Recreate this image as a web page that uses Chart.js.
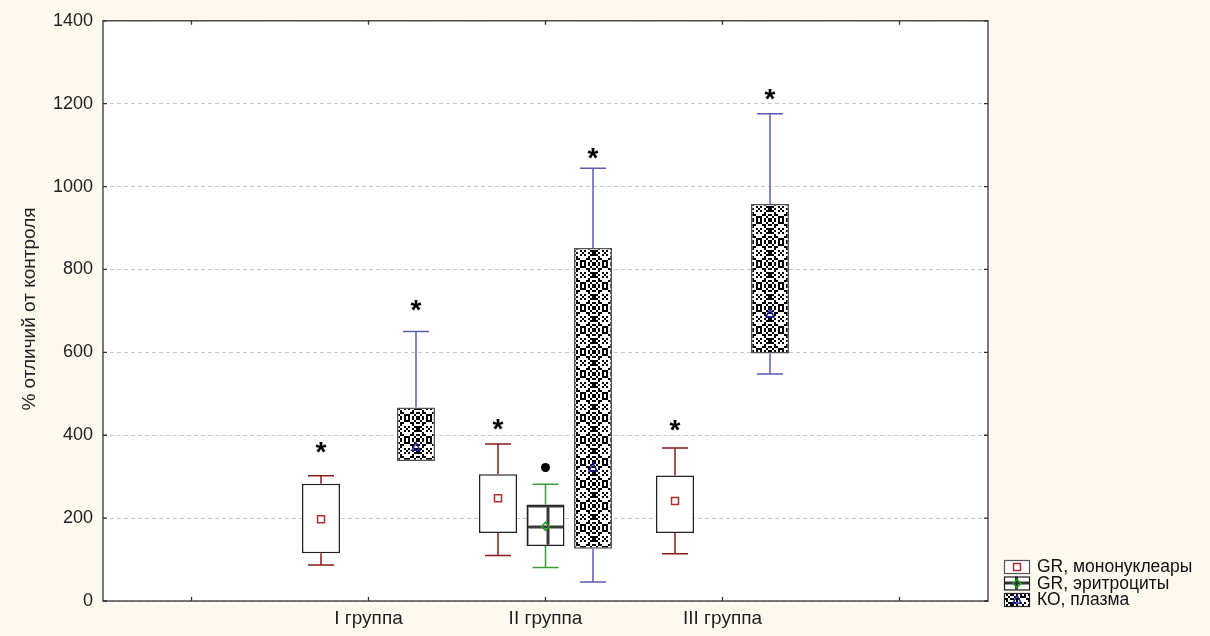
<!DOCTYPE html>
<html>
<head>
<meta charset="utf-8">
<script src="https://cdn.jsdelivr.net/npm/chart.js@4"></script>
<style>
  html, body { margin: 0; padding: 0; background: #fdf9ef; }
  #wrap { width: 1210px; height: 636px; position: relative; }
</style>
</head>
<body>
<div id="wrap"><canvas id="boxChart" width="1210" height="636"></canvas></div>
<script>
const categories = ['', 'I группа', 'II группа', 'III группа', ''];
const seriesNames = ['GR, мононуклеары', 'GR, эритроциты', 'КО, плазма'];
const yTicks = [0, 200, 400, 600, 800, 1000, 1200, 1400];

// GR, мононуклеары
const monoMin = [null, 87, 110, 114, null];
const monoQ1 = [null, 115, 164, 164, null];
const monoMean = [null, 197, 248, 241, null];
const monoQ3 = [null, 283, 306, 303, null];
const monoMax = [null, 302, 379, 369, null];
const monoStar = [null, 371, 427, 423, null];

// GR, эритроциты
const eryMin = [null, null, 81, null, null];
const eryQ1 = [null, null, 133, null, null];
const eryMean = [null, null, 180, null, null];
const eryQ3 = [null, null, 233, null, null];
const eryMax = [null, null, 282, null, null];
const eryOutlier = [null, null, 322, null, null];

// КО, плазма
const plasmaMin = [null, 338, 46, 548, null];
const plasmaQ1 = [null, 338, 126, 597, null];
const plasmaMean = [null, 371, 321, 693, null];
const plasmaQ3 = [null, 467, 852, 958, null];
const plasmaMax = [null, 650, 1044, 1176, null];
const plasmaStar = [null, 714, 1080, 1223, null];

const FONT = 'Arial, "Liberation Sans", sans-serif';
const canvas = document.getElementById('boxChart');
const ctx = canvas.getContext('2d');

function makeDotPattern() {
  const rows = [
    'X.X.X.X.X.X',
    '.X..XXX..X.',
    'X.XX...XX.X',
    '..X.....X..',
    'XX..X.X..XX',
    'X.X..X..X.X',
    'XX..X.X..XX',
    '..X.....X..',
    'X.XX...XX.X',
    '.X..XXX..X.',
    'X.X.X.X.X.X',
  ];
  const s = 2;
  const c = document.createElement('canvas');
  c.width = rows[0].length * s;
  c.height = rows.length * s;
  const g = c.getContext('2d');
  g.fillStyle = '#ffffff';
  g.fillRect(0, 0, c.width, c.height);
  g.fillStyle = '#000000';
  rows.forEach((r, y) => {
    for (let x = 0; x < r.length; x += 1) {
      if (r[x] === 'X') g.fillRect(x * s, y * s, s, s);
    }
  });
  return c;
}

function makeGridPattern() {
  const c = document.createElement('canvas');
  c.width = 21;
  c.height = 21;
  const g = c.getContext('2d');
  g.fillStyle = '#ffffff';
  g.fillRect(0, 0, 21, 21);
  g.fillStyle = '#9a9a9a';
  g.fillRect(0, 0, 4, 21);
  g.fillRect(0, 0, 21, 4);
  g.fillStyle = '#3a3a3a';
  g.fillRect(1, 0, 2, 21);
  g.fillRect(0, 1, 21, 2);
  return c;
}

const dotPattern = ctx.createPattern(makeDotPattern(), 'repeat');
const gridPattern = ctx.createPattern(makeGridPattern(), 'repeat');

const series = [
  { name: seriesNames[0], min: monoMin, q1: monoQ1, mean: monoMean, q3: monoQ3, max: monoMax,
    star: monoStar, outlier: null, fill: '#ffffff', border: '#222222', whisker: '#8b1a1a', marker: '#b03030', shape: 'square' },
  { name: seriesNames[1], min: eryMin, q1: eryQ1, mean: eryMean, q3: eryQ3, max: eryMax,
    star: null, outlier: eryOutlier, fill: gridPattern, border: '#222222', whisker: '#3c9a3c', marker: '#1ea01e', shape: 'diamond' },
  { name: seriesNames[2], min: plasmaMin, q1: plasmaQ1, mean: plasmaMean, q3: plasmaQ3, max: plasmaMax,
    star: plasmaStar, outlier: null, fill: dotPattern, border: '#555555', whisker: '#5c5cb4', marker: '#1a1a9a', shape: 'triangle' },
];

function drawMarker(g, shape, x, y, color) {
  g.save();
  g.strokeStyle = color;
  g.lineWidth = 1.5;
  g.beginPath();
  if (shape === 'square') {
    g.rect(x - 3.5, y - 3.5, 7, 7);
  } else if (shape === 'diamond') {
    g.moveTo(x, y - 4);
    g.lineTo(x + 4, y);
    g.lineTo(x, y + 4);
    g.lineTo(x - 4, y);
    g.closePath();
  } else {
    g.moveTo(x, y - 4.5);
    g.lineTo(x + 4, y + 3);
    g.lineTo(x - 4, y + 3);
    g.closePath();
  }
  g.stroke();
  g.restore();
}

const boxPlugin = {
  id: 'boxExtras',
  beforeDraw(chart) {
    const { ctx: g, chartArea: a } = chart;
    g.save();
    g.fillStyle = '#ffffff';
    g.fillRect(a.left, a.top, a.right - a.left, a.bottom - a.top);
    g.restore();
  },
  afterDatasetsDraw(chart) {
    const g = chart.ctx;
    const yScale = chart.scales.y;
    series.forEach((s, di) => {
      const meta = chart.getDatasetMeta(di);
      meta.data.forEach((el, i) => {
        if (s.q1[i] == null) return;
        const x = el.x;
        const yMax = yScale.getPixelForValue(s.max[i]);
        const yQ3 = yScale.getPixelForValue(s.q3[i]);
        const yQ1 = yScale.getPixelForValue(s.q1[i]);
        const yMin = yScale.getPixelForValue(s.min[i]);
        g.save();
        g.strokeStyle = s.whisker;
        g.lineWidth = 1.5;
        g.beginPath();
        if (s.max[i] > s.q3[i]) {
          g.moveTo(x, yQ3);
          g.lineTo(x, yMax);
          g.moveTo(x - 13, yMax);
          g.lineTo(x + 13, yMax);
        }
        if (s.min[i] < s.q1[i]) {
          g.moveTo(x, yQ1);
          g.lineTo(x, yMin);
          g.moveTo(x - 13, yMin);
          g.lineTo(x + 13, yMin);
        }
        g.stroke();
        g.restore();
        drawMarker(g, s.shape, x, yScale.getPixelForValue(s.mean[i]), s.marker);
        if (s.outlier && s.outlier[i] != null) {
          g.save();
          g.fillStyle = '#000000';
          g.beginPath();
          g.arc(x, yScale.getPixelForValue(s.outlier[i]), 4.5, 0, Math.PI * 2);
          g.fill();
          g.restore();
        }
        if (s.star && s.star[i] != null) {
          g.save();
          g.fillStyle = '#000000';
          g.font = 'bold 28px ' + FONT;
          g.textAlign = 'center';
          g.textBaseline = 'alphabetic';
          const m = g.measureText('*');
          const yc = yScale.getPixelForValue(s.star[i]);
          g.fillText('*', x, yc + (m.actualBoundingBoxAscent - m.actualBoundingBoxDescent) / 2);
          g.restore();
        }
      });
    });
  },
  afterDraw(chart) {
    const { ctx: g, chartArea: a } = chart;
    const yScale = chart.scales.y;
    const xScale = chart.scales.x;
    g.save();
    g.strokeStyle = '#333333';
    g.lineWidth = 1.3;
    g.strokeRect(a.left, a.top, a.right - a.left, a.bottom - a.top);
    g.beginPath();
    yTicks.forEach((v) => {
      const y = yScale.getPixelForValue(v);
      g.moveTo(a.left, y);
      g.lineTo(a.left + 4, y);
      g.moveTo(a.right, y);
      g.lineTo(a.right - 4, y);
    });
    categories.forEach((c, i) => {
      const x = xScale.getPixelForValue(i);
      g.moveTo(x, a.bottom);
      g.lineTo(x, a.bottom - 4);
      g.moveTo(x, a.top);
      g.lineTo(x, a.top + 4);
    });
    g.stroke();

    // y axis title
    g.fillStyle = '#222222';
    g.font = '19px ' + FONT;
    g.textAlign = 'center';
    g.textBaseline = 'middle';
    g.translate(30, 309);
    g.rotate(-Math.PI / 2);
    g.fillText('% отличий от контроля', 0, 0);
    g.restore();

    // legend
    g.save();
    const lx = a.right + 16;
    series.forEach((s, i) => {
      const top = 560 + i * 16.5;
      const w = 25;
      const h = 13;
      g.fillStyle = s.fill;
      g.fillRect(lx, top, w, h);
      if (i === 1) {
        g.fillStyle = '#ffffff';
        g.fillRect(lx, top, w, h);
        g.fillStyle = '#333333';
        g.fillRect(lx, top + 5, w, 3);
        g.fillRect(lx + 11, top, 3, h);
      }
      g.strokeStyle = i === 0 ? '#555555' : '#222222';
      g.lineWidth = 1.2;
      g.strokeRect(lx + 0.5, top + 0.5, w, h);
      drawMarker(g, s.shape, lx + 13, top + 7, s.marker);
      g.fillStyle = '#111111';
      g.font = '17.5px ' + FONT;
      g.textAlign = 'left';
      g.textBaseline = 'middle';
      g.fillText(s.name, lx + 33, top + 7.5);
    });
    g.restore();
  },
};

const datasets = series.map((s) => ({
  label: s.name,
  data: categories.map((c, i) => (s.q1[i] == null ? null : [s.q1[i], s.q3[i]])),
  backgroundColor: s.fill,
  borderColor: s.border,
  borderWidth: 1.5,
  borderSkipped: false,
  categoryPercentage: 0.805,
  barPercentage: 0.8,
}));

new Chart(canvas, {
  type: 'bar',
  data: { labels: categories, datasets },
  plugins: [boxPlugin],
  options: {
    responsive: false,
    animation: false,
    layout: { padding: { top: 19, right: 222, left: 0, bottom: 0 } },
    plugins: {
      legend: { display: false },
      tooltip: { enabled: false },
    },
    scales: {
      x: {
        grid: { display: false, drawTicks: false },
        border: { display: false },
        ticks: {
          color: '#222222',
          font: { family: FONT, size: 19 },
          padding: 6,
          maxRotation: 0,
          autoSkip: false,
        },
        afterFit(scale) { scale.height = 35; },
      },
      y: {
        min: 0,
        max: 1400,
        afterBuildTicks(scale) { scale.ticks = yTicks.map((v) => ({ value: v })); },
        grid: { color: '#c8c8c8', borderDash: [4, 3], drawTicks: false, lineWidth: 1 },
        border: { display: false, dash: [4, 3] },
        ticks: {
          color: '#222222',
          font: { family: FONT, size: 18 },
          padding: 10,
          callback: (v) => String(v),
        },
        afterFit(scale) { scale.width = 103; },
      },
    },
  },
});
</script>
</body>
</html>
